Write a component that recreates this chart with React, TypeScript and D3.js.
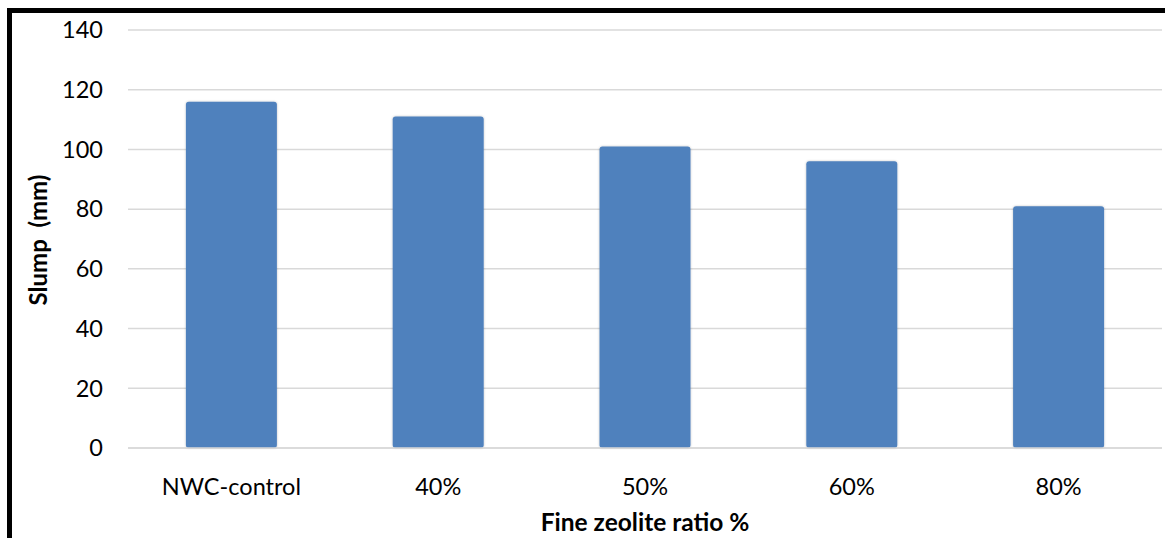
import React from "react";
import * as d3 from "d3";

const categories = ["NWC-control", "40%", "50%", "60%", "80%"];
const slumpValues = [116, 111, 101, 96, 81];
const yTicks = [0, 20, 40, 60, 80, 100, 120, 140];

export default function App() {
  const W = 1165, H = 538;
  const left = 128, right = 1162, top = 30, bottom = 448;
  const x = d3.scaleBand<string>().domain(categories).range([left, right]).paddingInner(0.56).paddingOuter(0.28);
  const y = d3.scaleLinear().domain([0, 140]).range([bottom, top]);
  const font = "Lato, 'Open Sans', sans-serif";
  return (
    <svg width={W} height={H} style={{ position: "absolute", left: 0, top: 0, background: "#fff" }} fontFamily={font}>
      <defs>
        <filter id="sh" x="-10%" y="-10%" width="120%" height="120%">
          <feDropShadow dx="0" dy="0" stdDeviation="1.2" floodColor="#000" floodOpacity="0.25" />
        </filter>
      </defs>
      <rect x={0} y={0} width={W} height={H} fill="#fff" />
      <rect x={9.5} y={10.5} width={1300} height={700} fill="none" stroke="#000" strokeWidth={5} />
      {yTicks.map((t) => (
        <g key={t}>
          <line x1={left} x2={right} y1={y(t)} y2={y(t)} stroke="#d9d9d9" strokeWidth={1.5} />
          <text x={103} y={y(t)} dy="0.35em" textAnchor="end" fontSize={23.5} fill="#000">{t}</text>
        </g>
      ))}
      {categories.map((c, i) => (
        <rect key={c} x={x(c)} y={y(slumpValues[i])} width={x.bandwidth()} height={bottom - y(slumpValues[i])}
          fill="#4f81bd" rx={3} filter="url(#sh)" />
      ))}
      <line x1={left} x2={right} y1={bottom} y2={bottom} stroke="#d9d9d9" strokeWidth={1.5} />
      {categories.map((c) => (
        <text key={c} x={(x(c) as number) + x.bandwidth() / 2} y={495} textAnchor="middle" fontSize={23.5} fill="#000">{c}</text>
      ))}
      <text x={645} y={531} textAnchor="middle" fontSize={24.5} fontWeight="bold" fill="#000">Fine zeolite ratio %</text>
      <text transform={`translate(47,240) rotate(-90)`} textAnchor="middle" fontSize={24} fontWeight="bold" fill="#000" style={{ whiteSpace: "pre" }}>{"Slump  (mm)"}</text>
    </svg>
  );
}
